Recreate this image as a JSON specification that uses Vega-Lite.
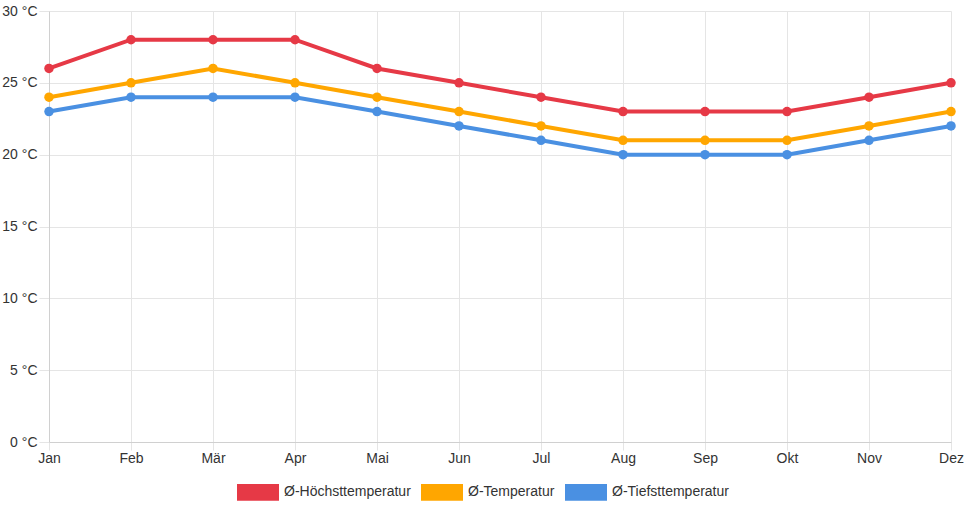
{
  "$schema": "https://vega.github.io/schema/vega-lite/v6.json",
  "autosize": {"type": "none"},
  "width": 902,
  "height": 431,
  "padding": {"left": 49, "top": 11, "right": 17, "bottom": 66},
  "background": "white",
  "config": {
    "font": "Liberation Sans",
    "view": {"stroke": null}
  },
  "data": {
    "values": [
      {"monat": "Jan", "serie": "Ø-Höchsttemperatur", "wert": 26},
      {"monat": "Feb", "serie": "Ø-Höchsttemperatur", "wert": 28},
      {"monat": "Mär", "serie": "Ø-Höchsttemperatur", "wert": 28},
      {"monat": "Apr", "serie": "Ø-Höchsttemperatur", "wert": 28},
      {"monat": "Mai", "serie": "Ø-Höchsttemperatur", "wert": 26},
      {"monat": "Jun", "serie": "Ø-Höchsttemperatur", "wert": 25},
      {"monat": "Jul", "serie": "Ø-Höchsttemperatur", "wert": 24},
      {"monat": "Aug", "serie": "Ø-Höchsttemperatur", "wert": 23},
      {"monat": "Sep", "serie": "Ø-Höchsttemperatur", "wert": 23},
      {"monat": "Okt", "serie": "Ø-Höchsttemperatur", "wert": 23},
      {"monat": "Nov", "serie": "Ø-Höchsttemperatur", "wert": 24},
      {"monat": "Dez", "serie": "Ø-Höchsttemperatur", "wert": 25},
      {"monat": "Jan", "serie": "Ø-Temperatur", "wert": 24},
      {"monat": "Feb", "serie": "Ø-Temperatur", "wert": 25},
      {"monat": "Mär", "serie": "Ø-Temperatur", "wert": 26},
      {"monat": "Apr", "serie": "Ø-Temperatur", "wert": 25},
      {"monat": "Mai", "serie": "Ø-Temperatur", "wert": 24},
      {"monat": "Jun", "serie": "Ø-Temperatur", "wert": 23},
      {"monat": "Jul", "serie": "Ø-Temperatur", "wert": 22},
      {"monat": "Aug", "serie": "Ø-Temperatur", "wert": 21},
      {"monat": "Sep", "serie": "Ø-Temperatur", "wert": 21},
      {"monat": "Okt", "serie": "Ø-Temperatur", "wert": 21},
      {"monat": "Nov", "serie": "Ø-Temperatur", "wert": 22},
      {"monat": "Dez", "serie": "Ø-Temperatur", "wert": 23},
      {"monat": "Jan", "serie": "Ø-Tiefsttemperatur", "wert": 23},
      {"monat": "Feb", "serie": "Ø-Tiefsttemperatur", "wert": 24},
      {"monat": "Mär", "serie": "Ø-Tiefsttemperatur", "wert": 24},
      {"monat": "Apr", "serie": "Ø-Tiefsttemperatur", "wert": 24},
      {"monat": "Mai", "serie": "Ø-Tiefsttemperatur", "wert": 23},
      {"monat": "Jun", "serie": "Ø-Tiefsttemperatur", "wert": 22},
      {"monat": "Jul", "serie": "Ø-Tiefsttemperatur", "wert": 21},
      {"monat": "Aug", "serie": "Ø-Tiefsttemperatur", "wert": 20},
      {"monat": "Sep", "serie": "Ø-Tiefsttemperatur", "wert": 20},
      {"monat": "Okt", "serie": "Ø-Tiefsttemperatur", "wert": 20},
      {"monat": "Nov", "serie": "Ø-Tiefsttemperatur", "wert": 21},
      {"monat": "Dez", "serie": "Ø-Tiefsttemperatur", "wert": 22}
    ]
  },
  "encoding": {
    "x": {
      "field": "monat",
      "type": "ordinal",
      "sort": ["Jan","Feb","Mär","Apr","Mai","Jun","Jul","Aug","Sep","Okt","Nov","Dez"],
      "scale": {"type": "point", "padding": 0},
      "axis": {
        "title": null,
        "labelAngle": 0,
        "labelFontSize": 14,
        "labelColor": "#333",
        "labelPadding": 1,
        "grid": true,
        "gridColor": "#e5e5e5",
        "domainColor": "#d0d0d0",
        "tickColor": "#e5e5e5",
        "tickSize": 8
      }
    },
    "y": {
      "field": "wert",
      "type": "quantitative",
      "scale": {"domain": [0, 30], "nice": false},
      "axis": {
        "title": null,
        "values": [0, 5, 10, 15, 20, 25, 30],
        "labelExpr": "datum.value + ' °C'",
        "labelFontSize": 14,
        "labelColor": "#333",
        "labelPadding": 2,
        "grid": true,
        "gridColor": "#e5e5e5",
        "domainColor": "#d0d0d0",
        "tickColor": "#e5e5e5",
        "tickSize": 10
      }
    },
    "color": {
      "field": "serie",
      "type": "nominal",
      "scale": {
        "domain": ["Ø-Höchsttemperatur", "Ø-Temperatur", "Ø-Tiefsttemperatur"],
        "range": ["#e63946", "#ffa600", "#4a90e2"]
      },
      "legend": {
        "title": null,
        "orient": "none",
        "direction": "horizontal",
        "legendX": 188,
        "legendY": 460,
        "symbolType": "M-1,-0.4H1V0.4H-1Z",
        "symbolSize": 1764,
        "symbolStrokeWidth": 0,
        "symbolOpacity": 1,
        "labelFontSize": 14,
        "labelColor": "#333",
        "labelOffset": 5,
        "columnPadding": 10
      }
    }
  },
  "layer": [
    {"mark": {"type": "line", "strokeWidth": 4}},
    {"mark": {"type": "point", "filled": true, "opacity": 1, "size": 90}}
  ]
}
